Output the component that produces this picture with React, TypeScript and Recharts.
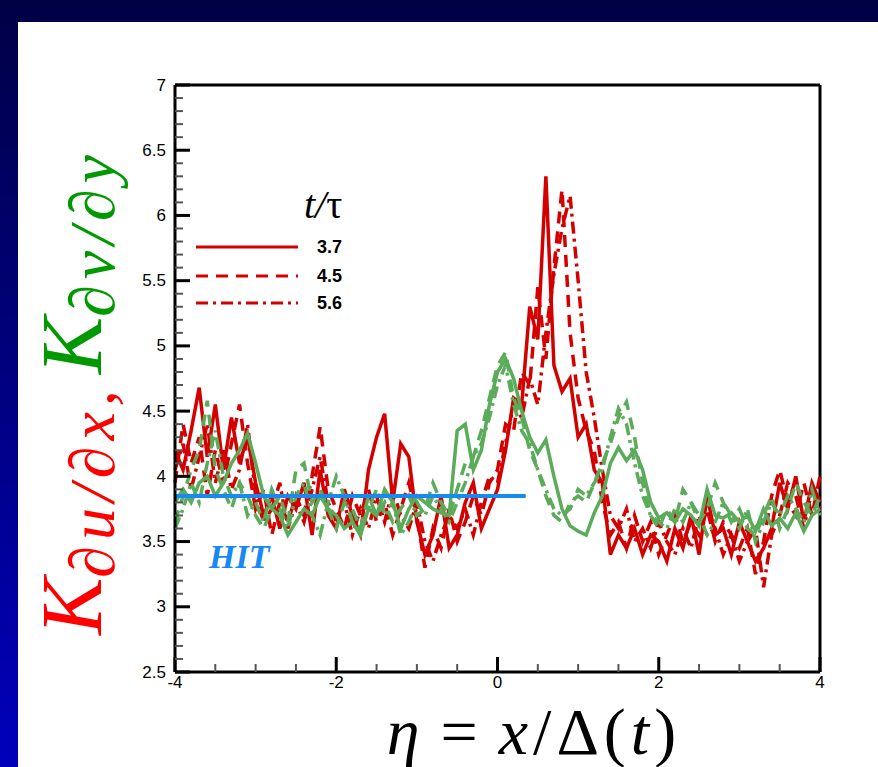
import { LineChart, Line, XAxis, YAxis, ReferenceLine } from "recharts";

// similarity coordinate eta = x / Delta(t)
const eta = [
  -4, -3.9, -3.8, -3.7, -3.6, -3.5, -3.4, -3.3, -3.2, -3.1,
  -3, -2.9, -2.8, -2.7, -2.6, -2.5, -2.4, -2.3, -2.2, -2.1,
  -2, -1.9, -1.8, -1.7, -1.6, -1.5, -1.4, -1.3, -1.2, -1.1,
  -1, -0.9, -0.8, -0.7, -0.6, -0.5, -0.4, -0.3, -0.2, -0.1,
  0, 0.1, 0.2, 0.3, 0.4, 0.5, 0.6, 0.7, 0.8, 0.9,
  1, 1.1, 1.2, 1.3, 1.4, 1.5, 1.6, 1.7, 1.8, 1.9,
  2, 2.1, 2.2, 2.3, 2.4, 2.5, 2.6, 2.7, 2.8, 2.9,
  3, 3.1, 3.2, 3.3, 3.4, 3.5, 3.6, 3.7, 3.8, 3.9,
  4,
];

// K_du/dx (red) at t/tau = 3.7, 4.5, 5.6
const kuT37 = [
  4.2, 4.05, 4.35, 4.68, 4.15, 4.55, 4.05, 4.45, 4.1, 4.3,
  3.95, 3.7, 3.85, 3.6, 3.85, 3.75, 3.95, 3.55, 4.05, 3.7,
  3.6, 3.9, 3.7, 3.55, 4.05, 4.3, 4.48, 3.8, 4.25, 4.15,
  3.65, 3.4, 3.55, 3.85, 3.45, 3.55, 3.8, 3.95, 3.6, 3.75,
  3.9, 4.2, 4.6, 4.55, 5.3, 5.05, 6.3, 4.85, 4.65, 4.75,
  4.3, 4.4, 4.05, 3.95, 3.4, 3.55, 3.45, 3.6, 3.4, 3.55,
  3.5, 3.35, 3.6, 3.45, 3.7, 3.4, 3.85, 3.55, 3.6, 3.4,
  3.65, 3.5, 3.35, 3.45, 3.6, 3.95, 3.75, 4.0, 3.65, 3.95,
  3.8,
];
const kuT45 = [
  3.95, 4.4, 4.1, 4.3, 3.85, 4.2, 3.95, 4.25, 4.55, 4.1,
  3.75, 3.9, 3.55, 3.8, 3.65, 3.85, 3.7, 4.0, 4.38, 3.9,
  3.75, 3.6, 3.85, 3.7, 3.9, 3.65, 3.8, 3.55, 3.75, 3.95,
  3.7, 3.3, 3.6, 3.45, 3.75, 3.5, 3.65, 3.85, 3.7, 3.95,
  4.05, 4.4, 4.35, 4.8, 4.7, 5.45, 4.9, 5.6, 6.2, 5.1,
  4.6, 4.35, 4.2, 3.8, 3.55, 3.65, 3.45, 3.7, 3.5, 3.65,
  3.4, 3.55, 3.7, 3.5, 3.65, 3.55, 3.75, 3.5, 3.65, 3.55,
  3.45, 3.6, 3.25, 3.5, 3.85, 4.05, 3.8, 3.7, 3.95, 3.7,
  4.0,
];
const kuT56 = [
  4.05, 4.25, 3.9, 4.15, 4.4, 3.95, 4.2, 3.9, 4.05, 4.4,
  3.85, 3.65, 3.75, 3.95, 3.6, 3.8, 3.65, 3.9, 4.15, 3.8,
  3.65, 3.8, 3.55, 3.75, 3.6, 3.85, 3.65, 3.9, 3.7, 3.6,
  3.8, 3.5, 3.35, 3.55, 3.7, 3.6, 3.75, 3.55, 3.8, 4.0,
  3.95, 4.25, 4.55, 4.45, 4.75, 4.55, 5.1, 5.55, 5.9, 6.15,
  5.5, 4.8, 4.45, 4.05, 3.7, 3.6, 3.75, 3.5, 3.6, 3.45,
  3.65, 3.5, 3.4, 3.6, 3.45, 3.7, 3.55, 3.6, 3.4, 3.55,
  3.35, 3.5, 3.6, 3.15, 3.55, 3.7, 3.95, 3.85, 3.6, 3.9,
  3.75,
];

// K_dv/dy (green) at t/tau = 3.7, 4.5, 5.6
const kvT37 = [
  3.8, 3.9, 3.8, 3.95, 4.0, 3.85, 3.95, 4.1, 4.2, 4.33,
  4.1, 3.85, 3.75, 3.7, 3.55, 3.65, 3.75, 3.7, 3.85, 3.75,
  3.7, 3.6, 3.65, 3.55, 3.75, 3.7, 3.9, 3.8, 3.6, 3.75,
  3.85, 3.8, 3.75, 3.72, 3.7, 4.35, 4.4, 4.05, 4.2, 4.55,
  4.8, 4.9, 4.75, 4.5, 4.3, 4.18, 4.28, 4.0, 3.75, 3.62,
  3.58, 3.55, 3.72, 3.85, 4.1, 4.22, 4.12, 4.2, 4.05, 3.8,
  3.68, 3.72, 3.65, 3.75, 3.7, 3.62, 3.9, 3.7, 3.68, 3.72,
  3.65, 3.7, 3.58, 3.75, 3.62, 3.68, 3.6, 3.72, 3.58, 3.7,
  3.75,
];
const kvT45 = [
  3.65, 3.85, 4.05, 4.2, 4.58, 4.05, 3.9, 3.75, 3.95, 3.85,
  3.7, 3.6, 3.75, 3.85, 3.65, 4.05, 4.1, 3.8, 3.9, 3.75,
  3.6, 3.8, 3.75, 3.6, 3.85, 3.7, 3.8, 3.65, 3.75, 3.85,
  3.7, 3.75, 3.95, 3.8, 3.7, 3.9, 4.1, 4.15, 4.35, 4.6,
  4.85, 4.95, 4.6, 4.45, 4.2, 4.05, 3.85, 3.7, 3.65, 3.8,
  3.85, 3.8, 3.95, 4.1, 4.25, 4.45, 4.57, 4.3, 3.95, 3.7,
  3.6, 3.75, 3.65, 3.9, 3.8, 3.65, 3.75, 3.95, 3.8, 3.65,
  3.75, 3.6, 3.55, 3.7, 3.85, 3.6, 3.75, 3.95, 3.8, 3.7,
  3.85,
];
const kvT56 = [
  3.6, 3.75, 3.95, 3.8, 4.1, 4.35, 4.0, 3.85, 3.95, 3.7,
  3.8, 3.65, 3.9, 3.75, 3.6, 3.85, 3.95, 3.7, 3.55, 3.8,
  4.0, 3.85, 3.65, 3.6, 3.75, 3.9, 3.7, 3.8, 3.55, 3.65,
  3.8, 3.7, 3.85, 3.75, 3.65, 3.8, 3.95, 4.15, 4.25, 4.45,
  4.7, 4.85, 4.55, 4.35, 4.25, 4.05, 3.9, 3.75, 3.7, 3.75,
  3.9, 3.85, 3.95, 4.05, 4.3, 4.52, 4.4, 4.1, 3.85, 3.7,
  3.65, 3.6, 3.75, 3.65, 3.8, 3.7, 3.55, 3.65, 3.8, 3.7,
  3.6, 3.75, 3.5, 3.65, 3.8, 3.7, 3.85, 3.75, 3.65, 3.9,
  3.7,
];

// isotropic turbulence reference level
const hitLevel = 3.85;
const hitRange = [-4, 0.35];

const legendTimes = ["3.7", "4.5", "5.6"];

const RED = "#d40000";
const GREEN = "#5aab5a";
const BLUE = "#1689f5";
const DASH = "12 8";
const DASH_DOT = "12 5 3 5";
const LW = 3.5;

const data = eta.map((e, i) => ({
  eta: e,
  ku37: kuT37[i],
  ku45: kuT45[i],
  ku56: kuT56[i],
  kv37: kvT37[i],
  kv45: kvT45[i],
  kv56: kvT56[i],
}));

const yTicks: number[] = [];
for (let i = 25; i <= 70; i++) yTicks.push(i / 10);
const xTicks: number[] = [];
for (let i = -8; i <= 8; i++) xTicks.push(i / 2);

const tickFont = "'Liberation Sans', Arial, sans-serif";

const YTick = (props: any) => {
  const { x, y, payload } = props;
  const tenths = Math.round(payload.value * 10);
  const major = tenths % 5 === 0;
  return (
    <g>
      <line
        x1={x}
        x2={x + (major ? 15 : 8)}
        y1={y}
        y2={y}
        stroke={major ? "#000" : "#555"}
        strokeWidth={major ? 3 : 2}
      />
      {major && (
        <text
          x={x - 9}
          y={y}
          textAnchor="end"
          dominantBaseline="central"
          fontSize={17}
          fontFamily={tickFont}
          fill="#000"
        >
          {String(tenths / 10)}
        </text>
      )}
    </g>
  );
};

const XTick = (props: any) => {
  const { x, y, payload } = props;
  const halves = Math.round(payload.value * 2);
  const major = halves % 4 === 0;
  return (
    <g>
      <line
        x1={x}
        x2={x}
        y1={y}
        y2={y - (major ? 15 : 8)}
        stroke={major ? "#000" : "#555"}
        strokeWidth={major ? 3 : 2}
      />
      {major && (
        <text
          x={x}
          y={y + 16}
          textAnchor="middle"
          fontSize={17}
          fontFamily={tickFont}
          fill="#000"
        >
          {String(halves / 2)}
        </text>
      )}
    </g>
  );
};

const serif = "'Liberation Serif', 'Times New Roman', serif";

const App = () => {
  return (
    <div
      style={{
        position: "absolute",
        left: 0,
        top: 0,
        width: 878,
        height: 767,
        background: "linear-gradient(180deg, #000046 0%, #0000bc 100%)",
        overflow: "hidden",
      }}
    >
      <div
        style={{
          position: "absolute",
          left: 18,
          top: 22,
          right: 0,
          bottom: 0,
          background: "#fff",
        }}
      />
      <div style={{ position: "absolute", left: 0, top: 0 }}>
        <LineChart
          width={878}
          height={767}
          data={data}
          margin={{ top: 85, right: 58, bottom: 65, left: 135 }}
        >
          <XAxis
            dataKey="eta"
            type="number"
            domain={[-4, 4]}
            ticks={xTicks}
            interval={0}
            height={30}
            tickSize={0}
            tickMargin={0}
            tick={<XTick />}
            tickLine={false}
            axisLine={{ stroke: "#000", strokeWidth: 3 }}
          />
          <YAxis
            type="number"
            domain={[2.5, 7]}
            ticks={yTicks}
            interval={0}
            width={40}
            tickSize={0}
            tickMargin={0}
            tick={<YTick />}
            tickLine={false}
            axisLine={{ stroke: "#000", strokeWidth: 3 }}
          />
          <ReferenceLine y={7} stroke="#000" strokeWidth={3} />
          <ReferenceLine x={4} stroke="#000" strokeWidth={3} />

          <Line dataKey="ku37" stroke={RED} strokeWidth={LW} dot={false} isAnimationActive={false} />
          <Line dataKey="ku45" stroke={RED} strokeWidth={LW} strokeDasharray={DASH} dot={false} isAnimationActive={false} />
          <Line dataKey="ku56" stroke={RED} strokeWidth={LW} strokeDasharray={DASH_DOT} dot={false} isAnimationActive={false} />
          <Line dataKey="kv37" stroke={GREEN} strokeWidth={LW} dot={false} isAnimationActive={false} />
          <Line dataKey="kv45" stroke={GREEN} strokeWidth={LW} strokeDasharray={DASH} dot={false} isAnimationActive={false} />
          <Line dataKey="kv56" stroke={GREEN} strokeWidth={LW} strokeDasharray={DASH_DOT} dot={false} isAnimationActive={false} />

          <ReferenceLine
            segment={[
              { x: hitRange[0], y: hitLevel },
              { x: hitRange[1], y: hitLevel },
            ]}
            stroke={BLUE}
            strokeWidth={4}
          />
        </LineChart>
      </div>

      <svg
        width={878}
        height={767}
        style={{ position: "absolute", left: 0, top: 0, pointerEvents: "none" }}
      >
        {/* axis titles */}
        <text
          transform="translate(101,392) rotate(-90)"
          textAnchor="middle"
          fontFamily={serif}
          fontStyle="italic"
        >
          <tspan fill="#ff0000" fontSize={86}>K</tspan>
          <tspan fill="#ff0000" fontSize={64} dy={13} letterSpacing={6}>∂u/∂x</tspan>
          <tspan fill="#ff0000" fontSize={64}>, </tspan>
          <tspan fill="#009a00" fontSize={86} dy={-13}>K</tspan>
          <tspan fill="#009a00" fontSize={64} dy={13} letterSpacing={6}>∂v/∂y</tspan>
        </text>
        <text
          x={534}
          y={754}
          textAnchor="middle"
          fontFamily={serif}
          fontSize={66}
          fill="#000"
          letterSpacing={5}
        >
          <tspan fontStyle="italic">η</tspan>
          <tspan dx={16}>=</tspan>
          <tspan dx={16} fontStyle="italic">x</tspan>
          <tspan>/Δ(</tspan>
          <tspan fontStyle="italic">t</tspan>
          <tspan>)</tspan>
        </text>

        {/* legend */}
        <text x={304} y={218} fontFamily={serif} fontSize={40} fill="#000">
          <tspan fontStyle="italic">t/</tspan>
          <tspan>τ</tspan>
        </text>
        {legendTimes.map((t, i) => {
          const y = [247, 276, 303][i];
          const dash = [undefined, DASH, DASH_DOT][i];
          return (
            <g key={t}>
              <line x1={196} x2={298} y1={y} y2={y} stroke={RED} strokeWidth={3} strokeDasharray={dash} />
              <text
                x={317}
                y={y}
                dominantBaseline="central"
                fontFamily={tickFont}
                fontWeight="bold"
                fontSize={18}
                fill="#000"
              >
                {t}
              </text>
            </g>
          );
        })}

        <text
          x={209}
          y={568}
          fontFamily={serif}
          fontStyle="italic"
          fontWeight="bold"
          fontSize={34}
          fill={BLUE}
        >
          HIT
        </text>
      </svg>
    </div>
  );
};

export default App;
